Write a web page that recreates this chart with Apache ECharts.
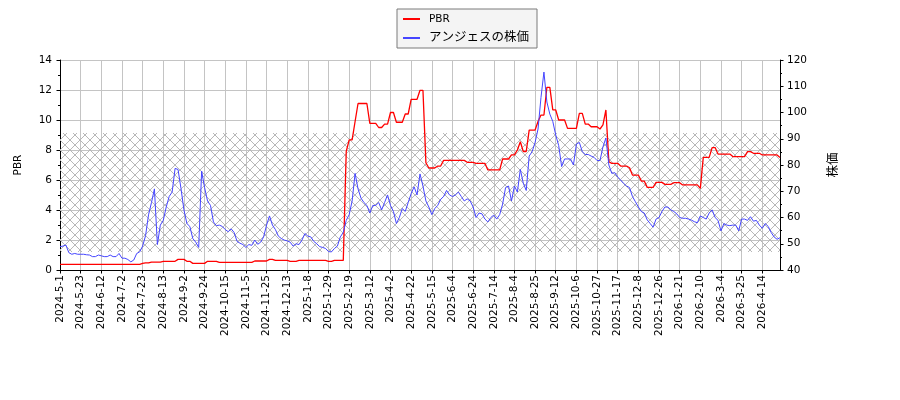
<!DOCTYPE html>
<html>
<head>
<meta charset="utf-8">
<title>PBR と株価</title>
<script src="https://cdn.jsdelivr.net/npm/echarts@6/dist/echarts.min.js"></script>
<style>
    html, body { margin: 0; padding: 0; background: #fff; }
    #main { width: 900px; height: 400px; }
</style>
</head>
<body>
<div id="main"></div>
<script>
    // 目盛りラベル（14営業日ごと、データは2営業日ごと → 7点ごと）
    var tickLabels = ['2024-5-1', '2024-5-23', '2024-6-12', '2024-7-2', '2024-7-23', '2024-8-13',
        '2024-9-2', '2024-9-24', '2024-10-15', '2024-11-5', '2024-11-25', '2024-12-13',
        '2025-1-8', '2025-1-29', '2025-2-19', '2025-3-12', '2025-4-2', '2025-4-22',
        '2025-5-15', '2025-6-4', '2025-6-24', '2025-7-14', '2025-8-4', '2025-8-25',
        '2025-9-12', '2025-10-6', '2025-10-27', '2025-11-17', '2025-12-8', '2025-12-26',
        '2026-1-21', '2026-2-10', '2026-3-4', '2026-3-25', '2026-4-14'];

    // PBR
    var pbr = [
        0.38, 0.38, 0.38, 0.38, 0.38, 0.38, 0.38, 0.38, 0.38, 0.38,
        0.38, 0.38, 0.38, 0.38, 0.38, 0.38, 0.38, 0.38, 0.38, 0.38,
        0.38, 0.38, 0.38, 0.38, 0.38, 0.38, 0.38, 0.38, 0.44, 0.47,
        0.47, 0.53, 0.53, 0.53, 0.53, 0.58, 0.58, 0.58, 0.58, 0.58,
        0.71, 0.71, 0.71, 0.58, 0.58, 0.44, 0.44, 0.44, 0.44, 0.44,
        0.58, 0.58, 0.58, 0.58, 0.51, 0.51, 0.51, 0.51, 0.51, 0.51,
        0.51, 0.51, 0.51, 0.51, 0.51, 0.51, 0.60, 0.60, 0.60, 0.60,
        0.60, 0.71, 0.71, 0.64, 0.64, 0.64, 0.64, 0.64, 0.58, 0.58,
        0.58, 0.64, 0.64, 0.64, 0.64, 0.64, 0.64, 0.64, 0.64, 0.64,
        0.64, 0.58, 0.58, 0.64, 0.64, 0.64, 0.64, 7.90, 8.67, 8.67,
        9.90, 11.10, 11.10, 11.10, 11.10, 9.78, 9.78, 9.78, 9.50, 9.50,
        9.73, 9.73, 10.50, 10.50, 9.85, 9.85, 9.85, 10.40, 10.40, 11.38,
        11.38, 11.38, 11.98, 11.98, 7.15, 6.80, 6.80, 6.80, 6.93, 6.93,
        7.31, 7.31, 7.31, 7.31, 7.31, 7.31, 7.31, 7.31, 7.18, 7.18,
        7.18, 7.11, 7.11, 7.11, 7.11, 6.67, 6.67, 6.67, 6.67, 6.67,
        7.40, 7.40, 7.40, 7.67, 7.67, 8.00, 8.55, 7.90, 7.90, 9.33,
        9.33, 9.33, 9.90, 10.33, 10.33, 12.18, 12.18, 10.67, 10.67, 10.00,
        10.00, 10.00, 9.44, 9.44, 9.44, 9.44, 10.44, 10.44, 9.73, 9.73,
        9.55, 9.55, 9.55, 9.40, 9.67, 10.67, 7.22, 7.11, 7.11, 7.11,
        6.93, 6.93, 6.93, 6.82, 6.33, 6.33, 6.33, 5.93, 5.93, 5.51,
        5.51, 5.51, 5.84, 5.84, 5.84, 5.71, 5.71, 5.71, 5.82, 5.82,
        5.82, 5.67, 5.67, 5.67, 5.67, 5.67, 5.67, 5.44, 7.51, 7.51,
        7.51, 8.16, 8.16, 7.73, 7.73, 7.73, 7.73, 7.73, 7.56, 7.56,
        7.56, 7.56, 7.56, 7.89, 7.89, 7.78, 7.78, 7.78, 7.67, 7.67,
        7.67, 7.67, 7.67, 7.67, 7.50
    ];

    // アンジェスの株価
    var price = [
        48.9, 49.1, 49.5, 46.6, 46.0, 46.3, 46.0, 46.0, 46.0, 45.8,
        45.7, 45.1, 45.1, 45.7, 45.4, 45.1, 45.1, 45.7, 45.1, 45.1,
        46.3, 44.5, 44.5, 44.0, 43.1, 43.8, 46.3, 46.9, 49.1, 53.1,
        61.0, 65.7, 70.9, 49.7, 57.1, 58.9, 64.0, 68.0, 69.7, 78.7,
        78.3, 71.1, 62.9, 57.7, 56.6, 52.0, 50.6, 48.6, 77.7, 71.4,
        66.3, 64.6, 58.3, 56.9, 57.1, 56.6, 55.4, 54.6, 55.7, 54.3,
        50.9, 50.2, 49.7, 48.6, 49.7, 49.4, 51.4, 49.8, 50.6, 52.6,
        57.1, 60.6, 57.1, 55.4, 52.9, 52.0, 51.4, 51.1, 50.6, 49.1,
        50.0, 49.7, 51.4, 53.9, 52.9, 52.6, 50.9, 50.0, 48.9, 48.6,
        48.2, 47.0, 46.9, 48.2, 49.1, 52.6, 54.3, 58.9, 61.1, 66.3,
        76.8, 70.9, 67.4, 65.7, 64.6, 61.7, 64.6, 64.6, 65.7, 62.9,
        65.7, 68.6, 64.6, 62.3, 57.7, 60.0, 63.4, 62.3, 65.7, 69.1,
        71.7, 68.6, 76.6, 72.0, 66.3, 64.0, 61.1, 63.4, 64.6, 66.9,
        68.0, 70.3, 68.6, 68.0, 68.6, 69.7, 68.0, 66.3, 67.1, 66.3,
        64.0, 60.0, 61.7, 61.4, 59.4, 58.3, 60.0, 60.9, 59.4, 61.1,
        65.1, 71.4, 72.0, 66.3, 72.0, 69.7, 78.3, 73.1, 70.3, 83.4,
        85.1, 88.6, 93.7, 105.7, 115.4, 104.0, 99.4, 96.6, 91.4, 87.4,
        79.4, 82.3, 82.3, 82.3, 80.0, 88.0, 88.6, 85.1, 84.0, 84.0,
        83.4, 82.9, 81.7, 81.7, 86.9, 90.3, 80.0, 76.8, 77.1, 75.4,
        74.3, 73.0, 72.0, 71.4, 68.0, 66.0, 64.0, 62.3, 61.7, 59.1,
        57.7, 56.3, 59.4, 60.0, 62.3, 64.0, 64.0, 62.9, 62.3, 61.4,
        60.0, 59.7, 59.7, 59.4, 59.0, 58.4, 58.0, 60.6, 60.0, 59.4,
        61.7, 62.9, 60.0, 58.9, 54.9, 57.7, 57.1, 56.9, 57.1, 57.1,
        54.9, 59.4, 59.4, 58.9, 60.3, 58.6, 58.9, 57.1, 55.9, 57.7,
        56.6, 54.3, 52.6, 51.7, 52.3
    ];

    // ハッチ帯の範囲（PBR軸）
    var bandRange = [1.2, 9.13];

    var xIndex = price.map(function (_, i) { return String(i); });
    var font = "'DejaVu Sans', 'Noto Sans CJK JP', sans-serif";
    var gridColor = '#c4c4c4';

    function onTick(i) { return i % 7 === 0; }

    // ハッチ（x）パターン
    var hatch = document.createElement('canvas');
    hatch.width = 10;
    hatch.height = 10;
    var ctx = hatch.getContext('2d');
    ctx.strokeStyle = '#b8b8b8';
    ctx.lineWidth = 1;
    ctx.beginPath();
    ctx.moveTo(0, 0); ctx.lineTo(10, 10);
    ctx.moveTo(10, 0); ctx.lineTo(0, 10);
    ctx.stroke();

    var chart = echarts.init(document.getElementById('main'));

    var option = {
        animation: false,
        backgroundColor: '#fff',
        textStyle: { fontFamily: font },
        grid: { left: 60, right: 120, top: 60, bottom: 130, containLabel: false, outerBoundsMode: 'none' },
        legend: {
            data: ['PBR', 'アンジェスの株価'],
            orient: 'vertical',
            left: 397,
            top: 9,
            padding: [3, 8, 3, 6],
            itemWidth: 17,
            itemHeight: 2,
            itemGap: 5,
            icon: 'rect',
            backgroundColor: '#f4f4f4',
            borderColor: '#7a7a7a',
            borderWidth: 1,
            borderRadius: 0,
            formatter: function (name) {
                return name === 'PBR' ? name : '{j|' + name + '}';
            },
            textStyle: {
                fontFamily: font, fontSize: 10.5, color: '#000', lineHeight: 14,
                padding: [0, 0, 0, 4],
                rich: { j: { fontFamily: font, fontSize: 12.5, color: '#000', lineHeight: 14 } }
            }
        },
        xAxis: {
            type: 'category',
            data: xIndex,
            boundaryGap: false,
            axisLine: { lineStyle: { color: '#000', width: 1 } },
            axisTick: { interval: onTick, length: 3.5, lineStyle: { color: '#000' } },
            axisLabel: {
                interval: onTick, rotate: 90, margin: 5,
                fontFamily: font, fontSize: 10.5, color: '#000',
                formatter: function (v, i) { return tickLabels[i / 7]; }
            },
            splitLine: { show: true, interval: onTick, lineStyle: { color: gridColor, width: 1 } }
        },
        yAxis: [
            {
                type: 'value', min: 0, max: 14, interval: 2,
                name: 'PBR', nameLocation: 'middle', nameGap: 36, nameRotate: 90,
                nameTextStyle: { fontFamily: font, fontSize: 10.5, color: '#000' },
                axisLine: { show: true, lineStyle: { color: '#000' } },
                axisTick: { show: true, length: 3.5, lineStyle: { color: '#000' } },
                minorTick: { show: true, splitNumber: 2, length: 2, lineStyle: { color: '#000' } },
                axisLabel: { margin: 8, fontFamily: font, fontSize: 10.5, color: '#000' },
                splitLine: { show: true, lineStyle: { color: gridColor, width: 1 } }
            },
            {
                type: 'value', min: 40, max: 120, interval: 10, position: 'right',
                name: '株価', nameLocation: 'middle', nameGap: 47, nameRotate: 90,
                nameTextStyle: { fontFamily: font, fontSize: 12.5, color: '#000' },
                axisLine: { show: true, lineStyle: { color: '#000' } },
                axisTick: { show: true, length: 3.5, lineStyle: { color: '#000' } },
                minorTick: { show: true, splitNumber: 2, length: 2, lineStyle: { color: '#000' } },
                axisLabel: { margin: 7, fontFamily: font, fontSize: 10.5, color: '#000' },
                splitLine: { show: false }
            }
        ],
        series: [
            {
                name: 'PBR',
                type: 'line',
                yAxisIndex: 0,
                data: pbr,
                symbol: 'none',
                color: '#ff0000',
                lineStyle: { color: '#ff0000', width: 1.3 },
                z: 3,
                markArea: {
                    silent: true,
                    label: { show: false },
                    itemStyle: { color: { image: hatch, repeat: 'repeat' }, opacity: 1 },
                    data: [[{ yAxis: bandRange[0] }, { yAxis: bandRange[1] }]]
                }
            },
            {
                name: 'アンジェスの株価',
                type: 'line',
                yAxisIndex: 1,
                data: price,
                symbol: 'none',
                color: '#4545ff',
                lineStyle: { color: '#4545ff', width: 1 },
                z: 4
            }
        ]
    };

    chart.setOption(option);
</script>
</body>
</html>
